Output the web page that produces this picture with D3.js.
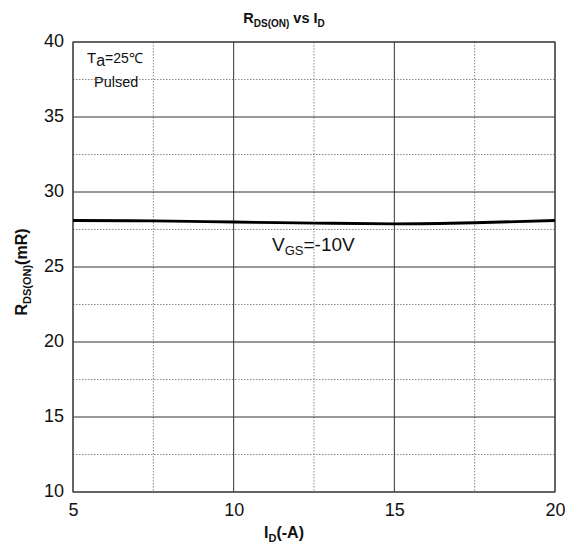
<!DOCTYPE html>
<html>
<head>
<meta charset="utf-8">
<script src="https://cdn.jsdelivr.net/npm/d3@7"></script>
<style>
  body { margin: 0; background: #fff; }
  text { font-family: "Liberation Sans", Arial, sans-serif; fill: #111; }
</style>
</head>
<body>
<svg id="chart" width="565" height="550"></svg>
<script>
// values
const currentA = [5, 7.5, 10, 12.5, 15, 17.5, 20];
const rdsOn = [28.1, 28.07, 28.0, 27.93, 27.88, 27.95, 28.1];
const xTicks = [5, 10, 15, 20];
const yTicks = [10, 15, 20, 25, 30, 35, 40];
const xMinor = [7.5, 12.5, 17.5];
const yMinor = [12.5, 17.5, 22.5, 27.5, 32.5, 37.5];

let svg = d3.select('#chart'),
  margin = { top: 42, right: 10, bottom: 58, left: 73 },
  width = +svg.attr('width') - margin.left - margin.right,
  height = +svg.attr('height') - margin.top - margin.bottom;

const x = d3.scaleLinear().domain([5, 20]).range([0, width]);
const y = d3.scaleLinear().domain([10, 40]).range([height, 0]);

let g = svg.append('g')
  .attr('transform', 'translate(' + margin.left + ',' + margin.top + ')');

// minor dotted grid
g.append('g').selectAll('line')
  .data(xMinor).enter().append('line')
  .attr('x1', d => x(d)).attr('x2', d => x(d))
  .attr('y1', 0).attr('y2', height)
  .attr('stroke', '#888').attr('stroke-width', 1).attr('stroke-dasharray', '1.5,1.5');

g.append('g').selectAll('line')
  .data(yMinor).enter().append('line')
  .attr('x1', 0).attr('x2', width)
  .attr('y1', d => y(d)).attr('y2', d => y(d))
  .attr('stroke', '#888').attr('stroke-width', 1).attr('stroke-dasharray', '1.5,1.5');

// major solid grid
g.append('g').selectAll('line')
  .data(xTicks).enter().append('line')
  .attr('x1', d => x(d)).attr('x2', d => x(d))
  .attr('y1', 0).attr('y2', height)
  .attr('stroke', '#333').attr('stroke-width', 1);

g.append('g').selectAll('line')
  .data(yTicks).enter().append('line')
  .attr('x1', 0).attr('x2', width)
  .attr('y1', d => y(d)).attr('y2', d => y(d))
  .attr('stroke', '#333').attr('stroke-width', 1);

g.append('rect')
  .attr('width', width).attr('height', height)
  .attr('fill', 'none').attr('stroke', '#444').attr('stroke-width', 1.2);

// tick labels
let xAxis = g.append('g')
  .attr('transform', 'translate(0,' + height + ')')
  .call(d3.axisBottom(x).tickValues(xTicks).tickSize(0).tickPadding(11).tickFormat(d3.format('d')));
xAxis.select('.domain').remove();
xAxis.selectAll('text').style('font-size', '18px').attr('fill', '#111');

let yAxis = g.append('g')
  .call(d3.axisLeft(y).tickValues(yTicks).tickSize(0).tickPadding(9).tickFormat(d3.format('d')));
yAxis.select('.domain').remove();
yAxis.selectAll('text').style('font-size', '18px').attr('fill', '#111').attr('dy', '0.25em');

// curve
const line = d3.line()
  .x((d, i) => x(currentA[i]))
  .y(d => y(d))
  .curve(d3.curveMonotoneX);

g.append('path')
  .datum(rdsOn)
  .attr('d', line)
  .attr('fill', 'none')
  .attr('stroke', '#000')
  .attr('stroke-width', 2.8);

// annotations
let ta = g.append('text').attr('x', 14).attr('y', 21).style('font-size', '15px');
ta.append('tspan').text('T');
ta.append('tspan').attr('dy', 3).style('font-size', '16px').text('a');
ta.append('tspan').attr('dy', -3).style('font-size', '14px').text('=25℃');

g.append('text').attr('x', 21).attr('y', 45).style('font-size', '14.5px').text('Pulsed');

let vgs = g.append('text').attr('x', 199).attr('y', 209).style('font-size', '19px');
vgs.append('tspan').text('V');
vgs.append('tspan').attr('dy', 4).style('font-size', '13px').text('GS');
vgs.append('tspan').attr('dy', -4).text('=-10V');

// title
let title = svg.append('text').attr('x', 284).attr('y', 23)
  .attr('text-anchor', 'middle').style('font-size', '14.5px').style('font-weight', 'bold');
title.append('tspan').text('R');
title.append('tspan').attr('dy', 4).style('font-size', '10px').text('DS(ON)');
title.append('tspan').attr('dy', -4).text(' vs I');
title.append('tspan').attr('dy', 4).style('font-size', '10px').text('D');

// x label
let xl = svg.append('text').attr('x', 284).attr('y', 538)
  .attr('text-anchor', 'middle').style('font-size', '16px').style('font-weight', 'bold');
xl.append('tspan').text('I');
xl.append('tspan').attr('dy', 4).style('font-size', '11px').text('D');
xl.append('tspan').attr('dy', -4).text('(-A)');

// y label
let yl = svg.append('text')
  .attr('transform', 'translate(27,' + (margin.top + height / 2 + 5) + ') rotate(-90)')
  .attr('text-anchor', 'middle').style('font-size', '16px').style('font-weight', 'bold');
yl.append('tspan').text('R');
yl.append('tspan').attr('dy', 4).style('font-size', '11px').text('DS(ON)');
yl.append('tspan').attr('dy', -4).text('(mR)');
</script>
</body>
</html>
